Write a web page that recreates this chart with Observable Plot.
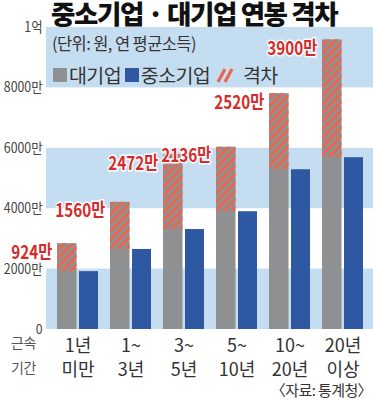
<!DOCTYPE html>
<html><head><meta charset="utf-8">
<script src="https://cdn.jsdelivr.net/npm/d3@7"></script>
<script src="https://cdn.jsdelivr.net/npm/@observablehq/plot@0.6"></script>
<style>
body{margin:0;background:#fff;}
#wrap{position:relative;width:373px;height:400px;overflow:hidden;font-family:"Noto Sans CJK KR","Noto Sans",sans-serif;}
#wrap > svg{position:absolute;left:0;top:0;}
.abs{position:absolute;white-space:nowrap;}
#title{left:51px;top:-1px;font-size:26.5px;line-height:28px;font-weight:900;letter-spacing:-1.4px;color:#111;}
#sub{left:52px;top:34px;font-size:16.5px;line-height:19px;color:#333;letter-spacing:-0.6px;}
#legend{left:53px;top:64px;font-size:19.5px;line-height:22px;color:#333;letter-spacing:-0.6px;display:flex;align-items:center;}
#legend .sw{display:inline-block;width:14px;height:14px;margin-right:2px;}
#side{left:11px;top:330px;font-size:14px;line-height:25px;color:#555;letter-spacing:-0.5px;}
#cap{right:1px;top:382px;font-size:15px;line-height:16px;color:#333;letter-spacing:-0.6px;}
</style></head><body><div id="wrap"></div>
<script>
const categories = ["1년 미만","1~3년","3~5년","5~10년","10~20년","20년 이상"];
const xTickLabels = ["1년\n미만","1~\n3년","3~\n5년","5~\n10년","10~\n20년","20년\n이상"];
const largeFirm = [2840, 4210, 5782, 6036, 7810, 9590];
const smallFirm = [1916, 2650, 3310, 3900, 5290, 5690];
const gapValues = [924, 1560, 2472, 2136, 2520, 3900];
const yTicks = [0, 2000, 4000, 6000, 8000, 10000];
const yTickLabels = ["0","2000만","4000만","6000만","8000만","1억"];
const bandStarts = [0, 4000, 8000];

const rows = categories.map((c,i)=>({cat:c, large:largeFirm[i], small:smallFirm[i], gap:gapValues[i]}));
const bands = bandStarts.map(a=>({a, b:a+2000}));
const font = '"Noto Sans CJK KR",sans-serif';

const plot = Plot.plot({
  width:373, height:400, marginLeft:46, marginRight:0, marginTop:27, marginBottom:71,
  style:{fontFamily:font, background:"transparent"},
  x:{domain:categories, paddingInner:0, paddingOuter:0.056, axis:null},
  y:{domain:[0,10000], axis:null},
  marks:[
    Plot.rect(bands,{y1:"a",y2:"b",fill:"#c5ddf0"}),
    Plot.barY(rows,{x:"cat",y:"large",fill:"#8f9092",insetLeft:6,insetRight:27.5}),
    Plot.barY(rows,{x:"cat",y1:"small",y2:"large",fill:"url(#hatch)",insetLeft:6,insetRight:27.5}),
    Plot.barY(rows,{x:"cat",y:"small",fill:"#2f58a2",insetLeft:28,insetRight:6}),
    Plot.axisY({ticks:yTicks, tickFormat:d=>yTickLabels[yTicks.indexOf(d)], tickSize:0, tickPadding:4, fontSize:14, color:"#444", className:"ylab"}),
    Plot.axisX({tickFormat:d=>xTickLabels[categories.indexOf(d)], tickSize:0, tickPadding:6, fontSize:18, lineHeight:1.3, color:"#333", label:null}),
    Plot.text(rows,{x:"cat",y:"large",text:d=>d.gap+"만",textAnchor:"end",dx:-25.75,dy:9,fill:"#d42b2b",fontWeight:"bold",fontSize:19,stroke:"white",strokeWidth:3,className:"gaplab"})
  ]
});
d3.select(plot).insert("defs",":first-child").html('<pattern id="hatch" width="6" height="6" patternUnits="userSpaceOnUse" patternTransform="rotate(45)"><rect width="3" height="6" fill="#e8674f"/></pattern>');

const wrap = document.getElementById("wrap");
wrap.appendChild(plot);
// condense labels like the reference's narrow typeface
function condense(sel, k){
  plot.querySelectorAll(sel).forEach(t=>{
    const w = t.getComputedTextLength();
    t.setAttribute("textLength", (w*k).toFixed(1));
    t.setAttribute("lengthAdjust","spacingAndGlyphs");
  });
}
condense(".gaplab text", 0.8);
condense(".ylab text", 0.88);
wrap.insertAdjacentHTML("beforeend", `
<div id="title" class="abs">중소기업 · 대기업 연봉 격차</div>
<div id="sub" class="abs">(단위: 원, 연 평균소득)</div>
<div id="legend" class="abs"><span class="sw" style="background:#8f9092"></span>대기업&nbsp;<span class="sw" style="background:#2f58a2"></span>중소기업&nbsp;<svg width="18" height="16" style="margin:0 9px 0 2px"><line x1="2" y1="15" x2="9" y2="2" stroke="#e8674f" stroke-width="3.2"/><line x1="9" y1="15" x2="16" y2="2" stroke="#e8674f" stroke-width="3.2"/></svg>격차</div>
<div id="side" class="abs">근속<br>기간</div>
<div id="cap" class="abs">〈자료: 통계청〉</div>`);
</script></body></html>
